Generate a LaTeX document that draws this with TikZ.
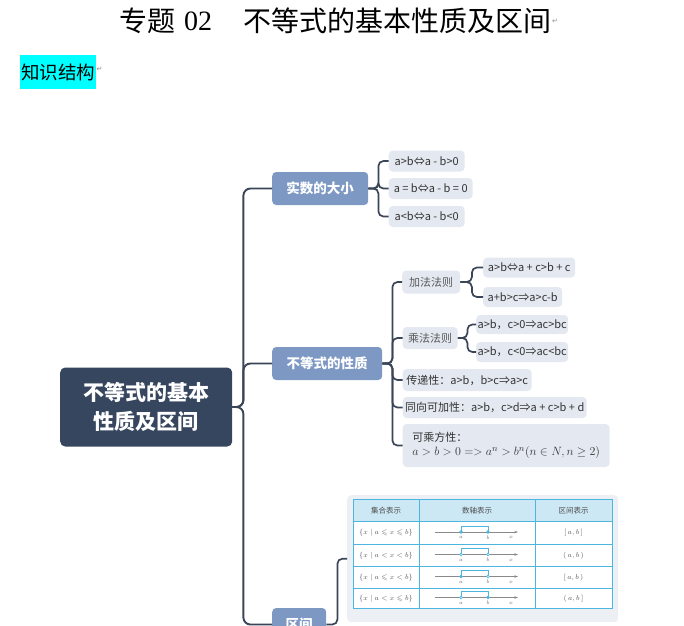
\documentclass[tikz,border=0pt]{standalone}
\usepackage{amssymb}
\usepackage{fontspec}
\setmainfont{Noto Sans CJK SC}
\newfontfamily\tnr{Liberation Serif}
\newfontfamily\dvs{DejaVu Sans}
\usetikzlibrary{arrows.meta}
\definecolor{rootc}{HTML}{36465F}
\definecolor{lvc}{HTML}{7D98C3}
\definecolor{leafc}{HTML}{E4E9F1}
\definecolor{linec}{HTML}{3A4558}
\definecolor{txtc}{HTML}{333333}
\definecolor{tblc}{HTML}{4DB6E0}
\definecolor{hdrc}{HTML}{CDE8F5}
\definecolor{framec}{HTML}{ECEFF4}
\definecolor{axisc}{HTML}{8A8A8A}
\definecolor{hilite}{HTML}{00FFFF}
\begin{document}
\begin{tikzpicture}[x=1pt,y=-1pt,
  rootbox/.style={fill=rootc, text=white, rounded corners=5pt, font=\fontsize{21}{29}\selectfont\bfseries, align=center, minimum width=172pt, minimum height=79pt, anchor=west, inner sep=0pt},
  lvone/.style={fill=lvc, text=white, rounded corners=4pt, font=\fontsize{13.5}{16}\selectfont\bfseries, minimum height=33pt, anchor=west, inner sep=0pt},
  leaf/.style={fill=leafc, text=txtc, rounded corners=4pt, font=\fontsize{11}{13}\selectfont, minimum height=21pt, anchor=west, inner sep=0pt},
  midleaf/.style={leaf, text=black!65},
  conn/.style={draw=linec, line width=1.7pt, rounded corners=5pt},
  trunk/.style={draw=linec, line width=1.9pt, rounded corners=7pt},
  grid/.style={draw=tblc, line width=0.6pt},
  hdr/.style={font=\fontsize{7.5}{9}\selectfont, text=black!70, inner sep=0pt},
  cell/.style={font=\fontsize{7}{8}\selectfont, text=black!65, inner sep=0pt},
  tiny/.style={font=\fontsize{4.5}{5}\selectfont, text=black!60, inner sep=0pt},
  retmark/.style={font=\dvs\fontsize{7}{8}\selectfont, text=black!45, inner sep=0pt, anchor=west}
]
\useasboundingbox (0,0) rectangle (684,625);

% title
\node[anchor=west, inner sep=0pt, font=\fontsize{28}{30}\selectfont] (t1) at (119,21) {专题};
\node[anchor=west, inner sep=0pt, font=\tnr\fontsize{28}{30}\selectfont] (t2) at (184,21) {02};
\node[anchor=west, inner sep=0pt, font=\fontsize{28}{30}\selectfont] (t3) at (243.5,21) {不等式的基本性质及区间};
\node[retmark] (r1) at (t3.east) {↵};

% knowledge structure label
\node[fill=hilite, minimum width=76pt, minimum height=34pt, inner sep=0pt, anchor=north west, font=\fontsize{18.5}{20}\selectfont] (ks) at (20,55) {知识结构};
\node[retmark] (r2) at ([yshift=3pt]ks.east) {↵};

% root
\node[rootbox] (root) at (60,407) {不等式的基本\\性质及区间};

% level one
\node[lvone, minimum width=96pt] (n1) at (272,188.5) {实数的大小};
\node[lvone, minimum width=110pt] (n2) at (272,363.5) {不等式的性质};
\node[lvone, minimum width=54pt] (n3) at (272,624.5) {区间};

\draw[trunk] (root.east) -- ++(11,0) |- (n1.west);
\draw[trunk] (root.east) -- ++(11,0) |- (n2.west);
\draw[trunk] (root.east) -- ++(11,0) |- (n3.west);

% leaves of n1
\node[leaf, minimum width=76pt] (a1) at (388.5,161) {a>b⇔a - b>0};
\node[leaf, minimum width=84pt] (a2) at (388.5,188.5) {a = b⇔a - b = 0};
\node[leaf, minimum width=76pt] (a3) at (388.5,216.5) {a<b⇔a - b<0};
\foreach \c in {a1,a2,a3} \draw[conn] (n1.east) -- ++(10,0) |- (\c.west);

% children of n2
\node[midleaf, minimum width=58pt, minimum height=23pt] (add) at (402,282) {加法法则};
\node[midleaf, minimum width=55pt, minimum height=22pt] (mul) at (402.5,338) {乘法法则};
\node[leaf, minimum width=129pt, minimum height=22pt] (tr) at (402.5,380) {传递性：a>b，b>c⇒a>c};
\node[leaf, minimum width=184pt] (tg) at (402.5,407.5) {同向可加性：a>b，c>d⇒a + c>b + d};
\node[leaf, minimum width=207pt, minimum height=43pt, align=left, inner xsep=5pt] (pw) at (402.5,445.5)
  {可乘方性：\\[1pt]{\fontsize{13}{15}\selectfont$a>b>0=>a^n>b^n(n\in N,n\geq 2)$}};
\foreach \c in {add,mul,tr,tg,pw} \draw[conn] (n2.east) -- ++(10,0) |- (\c.west);

\node[leaf, minimum width=92pt, minimum height=20pt] (b1) at (483,267.5) {a>b⇔a + c>b + c};
\node[leaf, minimum width=79pt, minimum height=20pt] (b2) at (483,297) {a+b>c⇒a>c-b};
\foreach \c in {b1,b2} \draw[conn] (add.east) -- ++(11.5,0) |- (\c.west);

\node[leaf, minimum width=92pt, minimum height=19pt] (c1) at (476,324.5) {a>b，c>0⇒ac>bc};
\node[leaf, minimum width=92pt, minimum height=20pt] (c2) at (476,352) {a>b，c<0⇒ac<bc};
\foreach \c in {c1,c2} \draw[conn] (mul.east) -- ++(9.5,0) |- (\c.west);

% interval table
\node[fill=framec, rounded corners=4pt, minimum width=271pt, minimum height=127pt, anchor=north west, inner sep=0pt] (tbl) at (347,495) {};
\draw[conn] (n3.east) -- ++(11,0) |- (tbl.west);

\fill[white] (353,499) rectangle (612,608.5);
\fill[hdrc] (353,499) rectangle (612,521.5);
\draw[grid] (353,499) rectangle (612,608.5);
\foreach \yy in {521.5,544.5,566.5,588.5} \draw[grid] (353,\yy) -- (612,\yy);
\foreach \xx in {419,535} \draw[grid] (\xx,499) -- (\xx,608.5);

\node[hdr] (h1) at (386,510.5) {集合表示};
\node[hdr] (h2) at (477,510.5) {数轴表示};
\node[hdr] (h3) at (573.5,510.5) {区间表示};

\node[cell] (s1) at (386,533) {$\{x\mid a\leqslant x\leqslant b\}$};
\node[cell] (s2) at (386,555.5) {$\{x\mid a<x<b\}$};
\node[cell] (s3) at (386,577.5) {$\{x\mid a\leqslant x<b\}$};
\node[cell] (s4) at (386,598.5) {$\{x\mid a<x\leqslant b\}$};

\node[cell] (i1) at (573.5,533) {$[\,a,b\,]$};
\node[cell] (i2) at (573.5,555.5) {$(\,a,b\,)$};
\node[cell] (i3) at (573.5,577.5) {$[\,a,b\,)$};
\node[cell] (i4) at (573.5,598.5) {$(\,a,b\,]$};

\foreach \yy/\fa/\fb in {532/tblc/tblc, 554.5/white/white, 576.5/tblc/white, 597.5/white/tblc}{
  \draw[axisc, line width=0.9pt, -{Stealth[length=3.5pt,width=2.5pt]}] (435,\yy) -- (518,\yy);
  \draw[tblc, line width=0.9pt] (461,\yy) -- (461,\yy-6) -- (488,\yy-6) -- (488,\yy);
  \filldraw[draw=tblc, fill=\fa, line width=0.6pt] (461,\yy) circle (1.4pt);
  \filldraw[draw=tblc, fill=\fb, line width=0.6pt] (488,\yy) circle (1.4pt);
  \node[tiny] at (461,\yy+5.5) {$a$};
  \node[tiny] at (488,\yy+5.5) {$b$};
  \node[tiny] at (511,\yy+5.5) {$x$};
}
\end{tikzpicture}
\end{document}
